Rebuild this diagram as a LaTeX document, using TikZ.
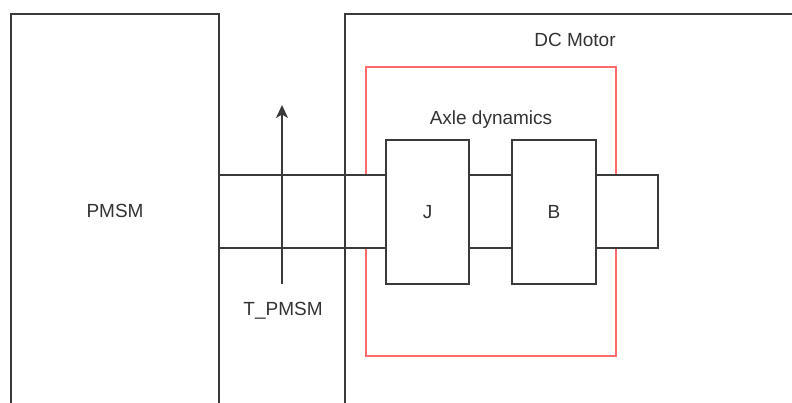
\documentclass[tikz,border=0pt]{standalone}
\usepackage{fontspec}
\setmainfont{Liberation Sans}
\usetikzlibrary{arrows.meta}
\definecolor{linegray}{HTML}{3A3A3A}
\definecolor{textgray}{HTML}{333333}
\definecolor{redline}{HTML}{FF6B6B}
\begin{document}
\begin{tikzpicture}[x=1pt,y=-1pt,
  box/.style={draw=linegray, line width=1.3pt, inner sep=0pt, outer sep=0pt, anchor=north west},
  wbox/.style={box, fill=white},
  redbox/.style={draw=redline, line width=1.3pt, inner sep=0pt, outer sep=0pt, anchor=north west},
  lbl/.style={text=textgray, inner sep=0pt, font=\fontsize{19}{22}\selectfont}
]
\useasboundingbox (0,0) rectangle (792,403);
\fill[white] (0,0) rectangle (792,403);
\clip (0,0) rectangle (792,403);
% red axle-dynamics frame
\node[redbox, minimum width=250pt, minimum height=289pt] (axle) at (366,67) {};
% shaft
\node[wbox, minimum width=439pt, minimum height=73pt] (shaft) at (219,175) {};
% outer boxes
\node[box, minimum width=208pt, minimum height=500pt] (pmsm) at (11,14) {};
\node[box, minimum width=500pt, minimum height=500pt] (dcm) at (345,14) {};
% J and B
\node[wbox, minimum width=83pt, minimum height=144pt] (J) at (386,140) {};
\node[wbox, minimum width=84pt, minimum height=144pt] (B) at (512,140) {};
% labels
\node[lbl] (pmsmlbl) at (115,211) {PMSM};
\node[lbl] (dclbl) at (575,40) {DC Motor};
\node[lbl] (axlelbl) at (491,120) {Axle dynamics};
\node[lbl] (Jlbl) at (J.center) {J};
\node[lbl] (Blbl) at (B.center) {B};
\node[lbl] (tlbl) at (283,311) {T\_PMSM};
% torque arrow
\coordinate (atail) at (282,284);
\coordinate (ahead) at (282,105);
\draw[linegray, line width=1.3pt, -{Stealth[length=13pt,width=12pt,inset=3.5pt]}] (atail) -- (ahead);
\end{tikzpicture}
\end{document}
